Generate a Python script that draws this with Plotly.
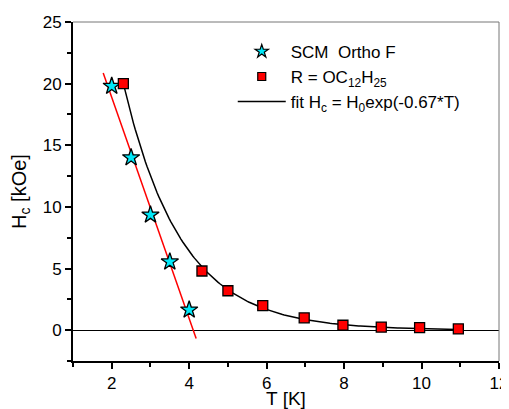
import numpy as np
import plotly.graph_objects as go

# SCM Ortho F data (stars)
star_T = [2.0, 2.5, 3.0, 3.5, 4.0]
star_H = [19.8, 14.0, 9.35, 5.55, 1.65]

# R = OC12H25 data (squares)
sq_T = [2.3, 4.33, 5.0, 5.9, 6.97, 7.97, 8.96, 9.95, 10.95]
sq_H = [20.0, 4.8, 3.2, 2.0, 1.0, 0.4, 0.25, 0.2, 0.1]

# Linear fit of stars (endpoints)
lin_T = [1.78, 4.18]
lin_H = [20.87, -0.67]

# exponential fit parameters from legend
H0 = 93.4
k = 0.67
fit_T = np.linspace(2.3, 11.0, 200)
fit_H = H0 * np.exp(-k * fit_T)

font = "Liberation Sans, Arial, sans-serif"

fig = go.Figure()
fig.add_trace(go.Scatter(x=lin_T, y=lin_H, mode="lines",
                         line=dict(color="#ff0000", width=1.5), showlegend=False))
fig.add_trace(go.Scatter(x=fit_T, y=fit_H, mode="lines",
                         line=dict(color="black", width=1.5), showlegend=False))
fig.add_trace(go.Scatter(x=star_T, y=star_H, mode="markers", showlegend=False,
                         marker=dict(symbol="star", size=13, color="#00e8f8",
                                     line=dict(color="black", width=1.3))))
fig.add_trace(go.Scatter(x=sq_T, y=sq_H, mode="markers", showlegend=False,
                         marker=dict(symbol="square", size=10, color="#ff0000",
                                     line=dict(color="black", width=1.3))))
# legend entries
fig.add_trace(go.Scatter(x=[None], y=[None], mode="markers", name="SCM&nbsp; Ortho F",
                         marker=dict(symbol="star", size=10, color="#00e8f8",
                                     line=dict(color="black", width=1.2))))
fig.add_trace(go.Scatter(x=[None], y=[None], mode="markers",
                         name="R = OC<sub>12</sub>H<sub>25</sub>",
                         marker=dict(symbol="square", size=8, color="#ff0000",
                                     line=dict(color="black", width=1.2))))
fig.add_trace(go.Scatter(x=[None], y=[None], mode="lines",
                         name="fit H<sub>c</sub> = H<sub>0</sub>exp(-0.67*T)",
                         line=dict(color="black", width=1.5)))

fig.update_layout(
    width=501, height=401,
    margin=dict(l=65, r=10, t=14, b=48, autoexpand=False),
    paper_bgcolor="white", plot_bgcolor="white",
    font=dict(family=font, size=17, color="black"),
    showlegend=True,
    legend=dict(x=0.375, y=0.965, xanchor="left", yanchor="top",
                bgcolor="rgba(0,0,0,0)", font=dict(size=17),
                itemwidth=48, tracegroupgap=0),
    xaxis=dict(range=[1, 12], showgrid=False, zeroline=False, automargin=False,
               tickmode="array", tickvals=[2, 4, 6, 8, 10, 12],
               ticks="outside", ticklen=6, tickwidth=1.5, tickcolor="black",
               minor=dict(tickvals=[1, 3, 5, 7, 9, 11], ticks="outside", ticklen=4,
                          tickwidth=1.5, tickcolor="black"),
               showline=True, linecolor="black", linewidth=2,
               title=dict(text="T [K]", font=dict(size=19), standoff=6),
               tickfont=dict(size=17)),
    yaxis=dict(range=[-2.5, 25], showgrid=False, zeroline=True, automargin=False,
               zerolinecolor="black", zerolinewidth=1,
               tickmode="array", tickvals=[0, 5, 10, 15, 20, 25],
               ticks="outside", ticklen=6, tickwidth=1.5, tickcolor="black",
               minor=dict(tickvals=[-2.5, 2.5, 7.5, 12.5, 17.5, 22.5], ticks="outside",
                          ticklen=4, tickwidth=1.5, tickcolor="black"),
               showline=True, linecolor="black", linewidth=2,
               title=dict(text="H<sub>c</sub> [kOe]", font=dict(size=20), standoff=16),
               tickfont=dict(size=17)),
)
fig.add_shape(type="line", xref="paper", yref="paper", x0=0, x1=1, y0=1, y1=1,
              line=dict(color="#777777", width=1))
fig.add_shape(type="line", xref="paper", yref="paper", x0=1, x1=1, y0=0, y1=1,
              line=dict(color="#777777", width=1))

fig.write_html("out.html")
